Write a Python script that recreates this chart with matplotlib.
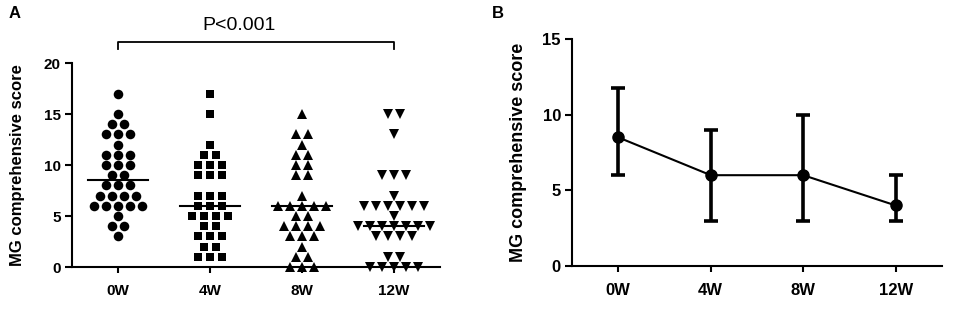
import matplotlib
matplotlib.use('Agg')
import matplotlib.pyplot as plt
import numpy as np

plt.rcParams['font.family'] = ['Liberation Sans', 'DejaVu Sans']

# ---- data ----
categories = ['0W', '4W', '8W', '12W']
scores_0w = [17, 15, 14, 14, 13, 13, 13, 12, 11, 11, 11, 10, 10, 10, 9, 9,
             8, 8, 8, 7, 7, 7, 7, 6, 6, 6, 6, 6, 5, 4, 4, 3]
scores_4w = [17, 15, 12, 11, 11, 10, 10, 10, 9, 9, 9, 7, 7, 7, 6, 6, 6,
             5, 5, 5, 5, 4, 4, 3, 3, 3, 2, 2, 1, 1, 1]
scores_8w = [15, 13, 13, 12, 11, 11, 10, 10, 9, 9, 7, 6, 6, 6, 6, 6,
             5, 5, 4, 4, 4, 4, 3, 3, 3, 2, 1, 1, 0, 0, 0]
scores_12w = [15, 15, 13, 9, 9, 9, 7, 6, 6, 6, 6, 6, 6, 5, 4, 4, 4, 4, 4,
              4, 4, 3, 3, 3, 3, 1, 1, 0, 0, 0, 0, 0]
b_median = [8.5, 6, 6, 4]
b_lower = [6, 3, 3, 3]
b_upper = [11.75, 9, 10, 6]
p_label = 'P<0.001'
ylabel = 'MG comprehensive score'

groups = [scores_0w, scores_4w, scores_8w, scores_12w]

fig = plt.figure(figsize=(9.57, 3.09), dpi=100)
axA = fig.add_axes([0.0752, 0.1359, 0.3846, 0.6602])
axB = fig.add_axes([0.5977, 0.1392, 0.3866, 0.7346])

markers = ['o', 's', '^', 'v']
msizes = [6.9, 6.0, 7.0, 7.0]
spacing = 0.13
for i, (vals, m, ms) in enumerate(zip(groups, markers, msizes)):
    vals = np.asarray(vals)
    xs, ys = [], []
    for v in np.unique(vals):
        n = int(np.sum(vals == v))
        off = (np.arange(n) - (n - 1) / 2) * spacing
        xs.extend(i + off)
        ys.extend([v] * n)
    axA.plot(xs, ys, linestyle='none', marker=m, ms=ms, color='black',
             markeredgewidth=0, clip_on=False, zorder=3)
    med = np.median(vals)
    axA.plot([i - 0.33, i + 0.33], [med, med], color='black', lw=1.5,
             zorder=4, clip_on=False)

for ax in (axA, axB):
    for s in ('top', 'right'):
        ax.spines[s].set_visible(False)
    for s in ('left', 'bottom'):
        ax.spines[s].set_linewidth(1.5)
    ax.tick_params(axis='both', direction='out', width=1.5, color='black')
    ax.set_xlim(-0.5, 3.5)
    ax.set_xticks(range(4))

axA.set_ylim(0, 20)
axA.set_yticks([0, 5, 10, 15, 20])
axA.set_xticklabels(categories, fontsize=11, fontweight='bold')
axA.tick_params(axis='x', length=4, pad=8)
axA.tick_params(axis='y', length=5, pad=3, labelsize=11)
for t in axA.get_yticklabels():
    t.set_fontweight('bold')
axA.set_ylabel(ylabel, fontsize=12, fontweight='bold')
axA.yaxis.set_label_coords(-0.128, 0.5)

# significance bracket
axA.plot([0, 0, 3, 3], [21.4, 22.06, 22.06, 21.4], color='black', lw=1.3,
         clip_on=False)
axA.text(1.32, 23.7, p_label, ha='center', va='center', fontsize=14)

# panel B
x = np.arange(len(categories))
med = np.asarray(b_median)
yerr = [med - np.asarray(b_lower), np.asarray(b_upper) - med]
axB.errorbar(x, med, yerr=yerr, fmt='-o', color='black', ms=8, lw=1.5,
             elinewidth=2.6, capsize=5, capthick=2.6, clip_on=False)
axB.set_ylim(0, 15)
axB.set_yticks([0, 5, 10, 15])
axB.set_xticklabels(categories, fontsize=12, fontweight='bold')
axB.tick_params(axis='x', length=4, pad=8)
axB.tick_params(axis='y', length=5, pad=3, labelsize=12)
for t in axB.get_yticklabels():
    t.set_fontweight('bold')
axB.set_ylabel(ylabel, fontsize=13, fontweight='bold')
axB.yaxis.set_label_coords(-0.122, 0.5)

fig.text(15 / 957, 1 - 14 / 309, 'A', fontsize=12, fontweight='bold',
         ha='center', va='center')
fig.text(498 / 957, 1 - 14 / 309, 'B', fontsize=12, fontweight='bold',
         ha='center', va='center')

fig.savefig('out.png', dpi=100)
